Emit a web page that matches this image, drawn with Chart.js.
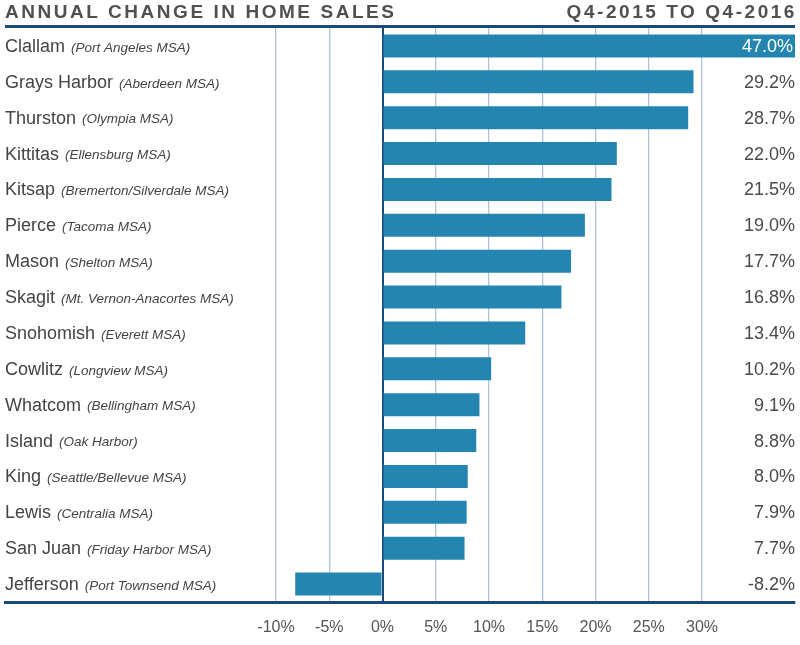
<!DOCTYPE html>
<html>
<head>
<meta charset="utf-8">
<script src="https://cdn.jsdelivr.net/npm/chart.js@4"></script>
<style>
  body { margin: 0; background: #fff; font-family: "Liberation Sans", Arial, sans-serif; }
  #wrap { position: relative; width: 800px; height: 645px; }
  .ttl { position: absolute; top: 1px; font-weight: bold; font-size: 19px; letter-spacing: 2.55px; color: #505050; }
  #t1 { left: 5px; }
  #t2 { right: 3px; }
  #rule { position: absolute; left: 5px; width: 790px; top: 25px; height: 3px; background: #1a4a7c; }
  canvas { position: absolute; left: 0; top: 0; }
</style>
</head>
<body>
<div id="wrap">
  <canvas id="graph" width="800" height="645"></canvas>
  <div class="ttl" id="t1">ANNUAL CHANGE IN HOME SALES</div>
  <div class="ttl" id="t2">Q4-2015 TO Q4-2016</div>
  <div id="rule"></div>
</div>
<script>
// counties and their metro areas, top to bottom
const counties = ["Clallam", "Grays Harbor", "Thurston", "Kittitas", "Kitsap", "Pierce", "Mason", "Skagit",
	"Snohomish", "Cowlitz", "Whatcom", "Island", "King", "Lewis", "San Juan", "Jefferson"];
const metros = ["(Port Angeles MSA)", "(Aberdeen MSA)", "(Olympia MSA)", "(Ellensburg MSA)",
	"(Bremerton/Silverdale MSA)", "(Tacoma MSA)", "(Shelton MSA)", "(Mt. Vernon-Anacortes MSA)",
	"(Everett MSA)", "(Longview MSA)", "(Bellingham MSA)", "(Oak Harbor)", "(Seattle/Bellevue MSA)",
	"(Centralia MSA)", "(Friday Harbor MSA)", "(Port Townsend MSA)"];
const change = [47.0, 29.2, 28.7, 22.0, 21.5, 19.0, 17.7, 16.8, 13.4, 10.2, 9.1, 8.8, 8.0, 7.9, 7.7, -8.2];
const tickValues = [-10, -5, 0, 5, 10, 15, 20, 25, 30];

const navy = "#1a4a7c";

// draw the county labels on the left and the values on the right
const rowLabels = {
	id: "rowLabels",
	afterDatasetsDraw(chart) {
		const ctx = chart.ctx;
		const y = chart.scales.y;
		const area = chart.chartArea;
		ctx.save();
		ctx.textBaseline = "middle";
		counties.forEach((name, i) => {
			const py = y.getPixelForValue(i) + 1;
			ctx.textAlign = "left";
			ctx.fillStyle = "#444";
			ctx.font = "18px 'Liberation Sans', Arial, sans-serif";
			ctx.fillText(name, 5, py);
			const w = ctx.measureText(name).width;
			ctx.font = "italic 13.5px 'Liberation Sans', Arial, sans-serif";
			ctx.fillText(metros[i], 5 + w + 6, py + 1);

			ctx.textAlign = "right";
			ctx.font = "18px 'Liberation Sans', Arial, sans-serif";
			const v = change[i].toFixed(1) + "%";
			if (change[i] > chart.scales.x.max) {
				ctx.fillStyle = "#fff";
				ctx.fillText(v, area.right - 2, py);
			} else {
				ctx.fillStyle = "#4a4a4a";
				ctx.fillText(v, area.right, py);
			}
		});
		ctx.restore();
	},
};

const ctx = document.getElementById("graph").getContext("2d");
const barChart = new Chart(ctx, {
	type: "bar",
	data: {
		labels: counties,
		datasets: [
			{
				label: "Annual change",
				data: change,
				backgroundColor: "#2486b0",
				borderWidth: 0,
				barPercentage: 0.64,
				categoryPercentage: 1,
			},
		],
	},
	options: {
		indexAxis: "y",
		responsive: false,
		animation: false,
		layout: { padding: { left: 5, right: 5, top: 28, bottom: 0 } },
		plugins: { legend: { display: false }, tooltip: { enabled: false } },
		scales: {
			x: {
				min: -35.45,
				max: 38.73,
				afterBuildTicks(scale) {
					scale.ticks = tickValues.map((v) => ({ value: v }));
				},
				afterFit(scale) {
					scale.height = 43;
				},
				ticks: {
					callback: (v) => v + "%",
					color: "#555",
					font: { size: 16, family: "'Liberation Sans', Arial, sans-serif" },
					padding: 16,
					maxRotation: 0,
					autoSkip: false,
				},
				grid: {
					drawTicks: false,
					color: (c) => (c.tick && c.tick.value === 0 ? navy : "#afc3db"),
					lineWidth: (c) => (c.tick && c.tick.value === 0 ? 2 : 1.3),
				},
				border: { display: true, color: navy, width: 3 },
			},
			y: {
				display: false,
				grid: { display: false },
			},
		},
	},
	plugins: [rowLabels],
});
</script>
</body>
</html>
